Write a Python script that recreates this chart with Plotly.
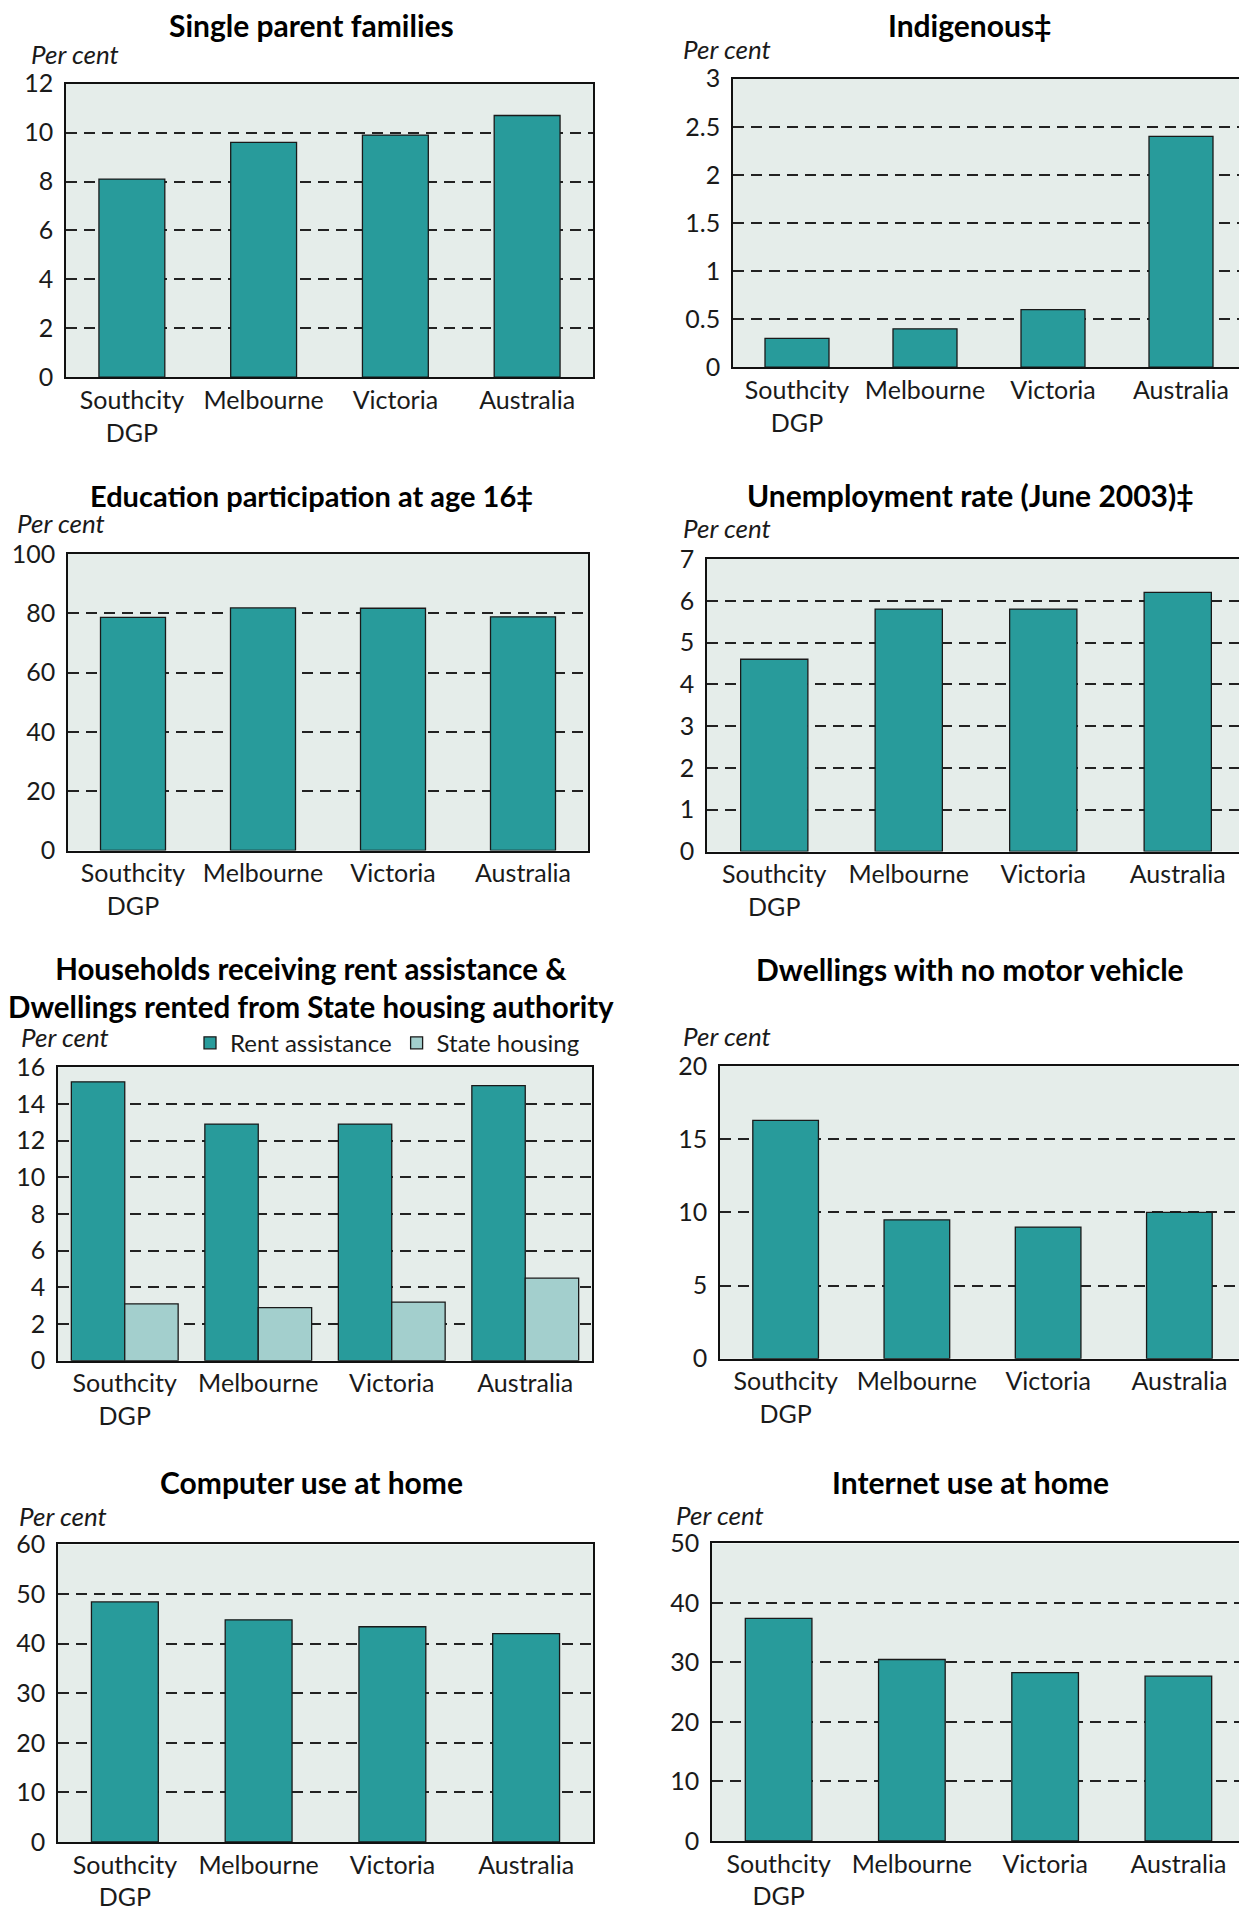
import plotly.graph_objects as go

# ---------------- data ----------------
categories = ["Southcity<br>DGP", "Melbourne", "Victoria", "Australia"]

single_parent = [8.1, 9.6, 9.9, 10.7]
indigenous = [0.3, 0.4, 0.6, 2.4]
education_16 = [78.6, 81.8, 81.7, 78.8]
unemployment = [4.6, 5.8, 5.8, 6.2]
rent_assistance = [15.2, 12.9, 12.9, 15.0]
state_housing = [3.1, 2.9, 3.2, 4.5]
no_motor_vehicle = [16.3, 9.5, 9.0, 10.0]
computer_use = [48.4, 44.8, 43.4, 42.0]
internet_use = [37.4, 30.5, 28.3, 27.7]

titles = [
    "Single parent families",
    "Indigenous‡",
    "Education participation at age 16‡",
    "Unemployment rate (June 2003)‡",
    "Households receiving rent assistance &<br>Dwellings rented from State housing authority",
    "Dwellings with no motor vehicle",
    "Computer use at home",
    "Internet use at home",
]
y_max = [12, 3, 100, 7, 16, 20, 60, 50]
y_dtick = [2, 0.5, 20, 1, 2, 5, 10, 10]
y_unit = "Per cent"
series_names = ["Rent assistance", "State housing"]

# ---------------- style / layout ----------------
W, H = 1247, 1908
TEAL = "#289b9b"
LIGHT = "#a3cfcd"
BG = "#e5edea"
FONT = "Lato"
TXT = "#1a1a1a"


def px_x(t):
    return t - 8.0


def px_y(t):
    return (t - 22.2) / 0.9858


# target plot boxes in px: x0, x1, ytop, ybottom
boxes = [
    (66, 593, 82, 376),
    (733, 1245, 77, 366),
    (68, 588, 553, 850),
    (707, 1245, 558, 851),
    (58, 592, 1067, 1361),
    (720, 1245, 1066, 1359),
    (58, 593, 1545, 1843),
    (712, 1245, 1544, 1842),
]
title_pos = [(311, 23), (970, 23), (311, 494), (970, 494),
             (311, 987), (970, 969), (311, 1482), (970, 1482)]
title_size = [30, 30, 29, 30, 29.5, 30, 30, 30]
unit_pos = [(29, 52), (681, 47), (15, 522), (681, 527),
            (19, 1037), (681, 1036), (17, 1517), (674, 1516)]

single_series = [single_parent, indigenous, education_16, unemployment,
                 None, no_motor_vehicle, computer_use, internet_use]

fig = go.Figure()
bar_line = dict(color="#1a1a1a", width=1.3)

for i in range(8):
    ax = "" if i == 0 else str(i + 1)
    xref, yref = "x" + ax, "y" + ax
    if i == 4:
        fig.add_trace(go.Bar(x=categories, y=rent_assistance, name=series_names[0],
                             marker=dict(color=TEAL, line=bar_line),
                             width=0.4, offset=-0.4, xaxis=xref, yaxis=yref,
                             showlegend=True))
        fig.add_trace(go.Bar(x=categories, y=state_housing, name=series_names[1],
                             marker=dict(color=LIGHT, line=bar_line),
                             width=0.4, offset=0.0, xaxis=xref, yaxis=yref,
                             showlegend=True))
    else:
        fig.add_trace(go.Bar(x=categories, y=single_series[i],
                             marker=dict(color=TEAL, line=bar_line),
                             width=0.5, xaxis=xref, yaxis=yref, showlegend=False))

    x0, x1, yt, yb = boxes[i]
    dx0, dx1 = max(px_x(x0) / W, 0), min(px_x(x1) / W, 0.9995)
    dy0, dy1 = 1 - px_y(yb) / H, 1 - px_y(yt) / H
    fig.layout["xaxis" + ax] = dict(
        domain=[dx0, dx1], anchor=yref,
        showline=True, mirror=True, linecolor="#111", linewidth=1.5,
        showgrid=False, ticks="", tickfont=dict(family=FONT, size=25, color=TXT),
        ticklabelstandoff=0, fixedrange=True,
    )
    fig.layout["yaxis" + ax] = dict(
        domain=[dy0, dy1], anchor=xref,
        range=[0, y_max[i]], dtick=y_dtick[i], tick0=0,
        showline=True, mirror=True, linecolor="#111", linewidth=1.5,
        showgrid=True, gridcolor="#222", gridwidth=1.5, griddash="11px,7px",
        zeroline=False, ticks="",
        tickfont=dict(family=FONT, size=25, color=TXT),
        ticklabelstandoff=6, fixedrange=True,
    )

    tx, ty = title_pos[i]
    fig.add_annotation(text="<b>" + titles[i].replace("<br>", "</b><br><b>") + "</b>",
                       x=px_x(tx) / W, y=1 - px_y(ty) / H, xref="paper", yref="paper",
                       xanchor="center", yanchor="middle", showarrow=False,
                       font=dict(family=FONT, size=title_size[i], color="#000"))
    ux, uy = unit_pos[i]
    fig.add_annotation(text="<i>" + y_unit + "</i>",
                       x=px_x(ux) / W, y=1 - px_y(uy) / H, xref="paper", yref="paper",
                       xanchor="left", yanchor="middle", showarrow=False,
                       font=dict(family=FONT, size=26, color=TXT))

fig.update_layout(
    width=W, height=H,
    margin=dict(l=0, r=0, t=0, b=0),
    paper_bgcolor="white", plot_bgcolor=BG,
    showlegend=True,
    legend=dict(orientation="h", x=px_x(190) / W, y=1 - px_y(1043) / H,
                xanchor="left", yanchor="middle",
                font=dict(family=FONT, size=24, color=TXT),
                bgcolor="rgba(0,0,0,0)", itemwidth=30, tracegroupgap=0),
    font=dict(family=FONT, color=TXT),
)

fig.write_html("out.html")
